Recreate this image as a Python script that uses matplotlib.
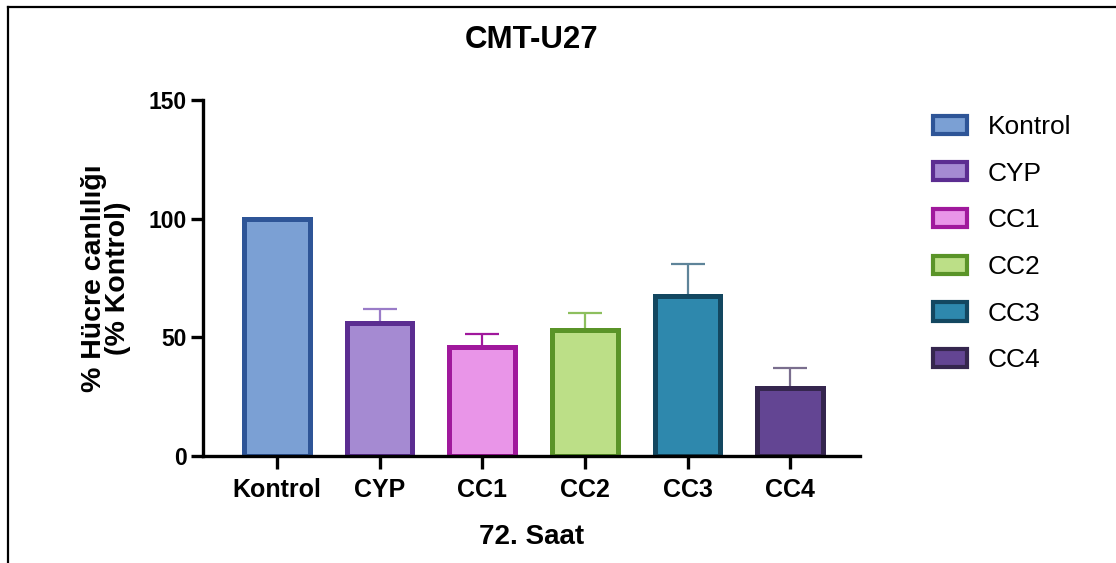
import numpy as np
import matplotlib.pyplot as plt
from matplotlib.lines import Line2D

plt.rcParams['font.family'] = ['Liberation Sans', 'DejaVu Sans']

gruplar = ['Kontrol', 'CYP', 'CC1', 'CC2', 'CC3', 'CC4']
canlilik = [100, 56, 46, 53, 67.5, 28.5]
hata = [0, 6, 5.6, 7.3, 13.5, 8.7]

dolgu = ['#7BA0D4', '#A58AD2', '#E995E8', '#BCDF87', '#2E88AD', '#634593']
kenar = ['#2E5597', '#5B2D91', '#A0189C', '#5A9428', '#134760', '#35264E']
hata_renk = ['#2E5597', '#9A7CC8', '#A0189C', '#8DBF5E', '#5E8499', '#7A6E8E']

fig = plt.figure(figsize=(11.16, 5.63), dpi=100)
ax = fig.add_axes([0.182, 0.19, 0.5886, 0.6324])

x = np.arange(len(gruplar))
bars = ax.bar(x, canlilik, width=0.64, color=dolgu, edgecolor=kenar,
              linewidth=3.6, zorder=2)

# sadece ust hata cubuklari
for i in range(len(gruplar)):
    if hata[i] > 0:
        ax.errorbar(x[i], canlilik[i], yerr=[[0], [hata[i]]], fmt='none',
                    ecolor=hata_renk[i], elinewidth=1.6, capsize=12.5,
                    capthick=1.6, zorder=1)

ax.set_xlim(-0.72, 5.68)
ax.set_ylim(0, 150)
ax.set_yticks([0, 50, 100, 150])
ax.set_xticks(x)
ax.set_xticklabels(gruplar)

for s in ['top', 'right']:
    ax.spines[s].set_visible(False)
for s in ['left', 'bottom']:
    ax.spines[s].set_linewidth(2.4)

ax.tick_params(axis='both', width=2.4, length=9)
ax.tick_params(axis='x', labelsize=18, pad=6.5)
ax.tick_params(axis='y', labelsize=16.5, pad=3)
for lbl in ax.get_xticklabels() + ax.get_yticklabels():
    lbl.set_fontweight('bold')

ax.set_ylabel('% Hücre canlılığı\n(% Kontrol)', fontsize=20.5, fontweight='bold',
              linespacing=0.9)
ax.yaxis.set_label_coords(-0.11, 0.5)
ax.set_xlabel('72. Saat', fontsize=20, fontweight='bold')
ax.xaxis.set_label_coords(0.5, -0.19)

fig.text(0.476, 0.929, 'CMT-U27', ha='center', va='center', fontsize=22.5,
         fontweight='bold')

leg = fig.legend(bars, gruplar, loc='upper left',
                 bbox_to_anchor=(0.815, 0.838), frameon=False, fontsize=19,
                 handlelength=1.26, handleheight=0.68, labelspacing=0.86,
                 handletextpad=0.8)
for p in leg.get_patches():
    p.set_linewidth(3.0)

# cerceve
fig.add_artist(Line2D([0.0072, 0.0072], [0.0, 0.9876], color='black',
                      linewidth=1.6, transform=fig.transFigure))
fig.add_artist(Line2D([0.0072, 1.0], [0.9876, 0.9876], color='black',
                      linewidth=1.6, transform=fig.transFigure))

fig.savefig('out.png', dpi=100)
